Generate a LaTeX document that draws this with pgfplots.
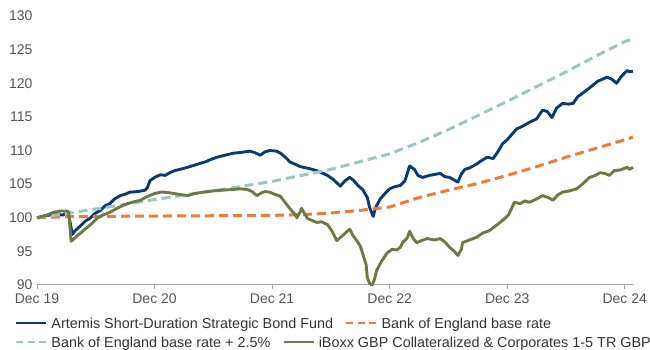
\documentclass[border=0pt]{standalone}
\usepackage{fontspec}
\setmainfont{Liberation Sans}
\usepackage{pgfplots}
\usepackage{pgfplotstable}
\pgfplotsset{compat=1.18}

\definecolor{navy}{HTML}{0B3B6E}
\definecolor{boe}{HTML}{F07C35}
\definecolor{boeplus}{HTML}{9CC5C7}
\definecolor{olive}{HTML}{6C7B46}
\definecolor{ticktxt}{HTML}{555555}
\definecolor{legtxt}{HTML}{333333}
\definecolor{axgrey}{HTML}{A6A6A6}

\pgfplotstableread{
x y
0.00 100.0
0.07 100.3
0.15 100.5
0.22 100.4
0.26 100.8
0.28 99.5
0.30 97.5
0.32 98.0
0.37 98.8
0.41 99.5
0.45 99.9
0.49 100.6
0.54 101.1
0.58 101.8
0.62 102.1
0.66 102.8
0.71 103.3
0.75 103.5
0.79 103.8
0.86 103.9
0.92 104.1
0.94 104.5
0.96 105.5
1.00 106.0
1.05 106.4
1.09 106.3
1.13 106.7
1.17 107.0
1.24 107.3
1.30 107.6
1.39 108.1
1.43 108.3
1.47 108.6
1.53 109.0
1.60 109.3
1.67 109.6
1.73 109.7
1.81 109.9
1.85 109.7
1.90 109.3
1.94 109.8
1.98 110.0
2.04 109.9
2.08 109.5
2.13 108.7
2.15 108.3
2.19 108.0
2.24 107.6
2.32 107.3
2.38 107.0
2.42 106.7
2.47 106.3
2.52 105.7
2.58 104.7
2.62 105.5
2.66 106.0
2.69 105.6
2.73 104.8
2.77 104.2
2.81 103.0
2.83 101.5
2.86 100.2
2.88 101.5
2.92 102.8
2.96 103.6
3.00 104.3
3.04 104.6
3.09 104.8
3.13 105.5
3.17 107.7
3.21 107.2
3.24 106.3
3.28 106.0
3.34 106.3
3.43 106.6
3.47 106.1
3.51 106.0
3.55 105.6
3.58 105.3
3.61 106.5
3.64 107.2
3.68 107.4
3.74 108.0
3.79 108.6
3.83 109.0
3.88 108.8
3.92 109.8
3.96 111.0
4.00 111.6
4.02 112.0
4.08 113.2
4.13 113.6
4.19 114.2
4.25 114.7
4.30 116.0
4.34 115.8
4.38 114.9
4.42 116.3
4.47 117.0
4.52 116.9
4.56 117.0
4.60 118.0
4.64 118.5
4.70 119.3
4.77 120.3
4.81 120.6
4.85 120.9
4.89 120.6
4.93 120.0
4.97 121.0
5.02 121.9
5.04 121.7
5.07 121.8
}\artemis

\pgfplotstableread{
x y
0.00 100.0
0.25 100.15
0.50 100.2
1.00 100.25
1.50 100.3
2.00 100.35
2.25 100.45
2.50 100.7
2.75 101.1
3.00 101.6
3.25 103.0
3.50 104.1
3.75 105.1
4.00 106.3
4.25 107.6
4.50 109.0
4.75 110.3
5.00 111.6
5.07 112.0
}\boe

\pgfplotstableread{
x y
0.00 100.0
0.50 101.3
1.00 102.7
1.50 104.0
2.00 105.4
2.50 107.2
3.00 109.5
3.25 111.2
3.50 113.1
3.75 115.2
4.00 117.3
4.25 119.5
4.50 121.7
4.75 124.0
5.00 126.2
5.07 126.6
}\boeplus

\pgfplotstableread{
x y
0.00 100.0
0.07 100.3
0.14 100.8
0.20 101.0
0.26 101.0
0.27 100.8
0.29 96.5
0.31 96.8
0.34 97.3
0.37 97.7
0.40 98.2
0.43 98.6
0.47 99.2
0.51 99.9
0.56 100.4
0.62 100.8
0.69 101.5
0.77 102.1
0.83 102.4
0.88 102.6
0.92 103.0
0.96 103.3
1.00 103.6
1.05 103.8
1.09 103.8
1.13 103.7
1.20 103.5
1.28 103.3
1.34 103.6
1.41 103.8
1.50 104.0
1.58 104.1
1.66 104.2
1.73 104.3
1.79 104.2
1.83 103.9
1.87 103.3
1.91 103.7
1.94 103.9
1.98 103.8
2.02 103.5
2.07 103.2
2.11 102.3
2.15 101.4
2.19 100.6
2.21 100.0
2.24 100.9
2.25 101.4
2.28 100.5
2.30 99.9
2.34 99.6
2.38 99.3
2.42 99.4
2.47 99.0
2.51 98.0
2.55 96.6
2.59 97.2
2.64 98.0
2.66 98.3
2.69 97.3
2.72 96.6
2.75 95.8
2.77 94.7
2.80 93.0
2.81 91.1
2.83 90.2
2.85 90.0
2.87 90.8
2.89 92.2
2.93 93.5
2.98 94.8
3.02 95.3
3.06 95.2
3.09 95.6
3.11 96.3
3.15 97.0
3.17 98.0
3.20 96.9
3.23 96.3
3.27 96.6
3.32 96.9
3.38 96.7
3.43 96.9
3.47 96.4
3.51 95.6
3.55 95.0
3.58 94.4
3.61 95.3
3.62 96.3
3.68 96.7
3.74 97.1
3.79 97.7
3.85 98.1
3.91 98.9
3.96 99.6
4.01 100.4
4.04 101.5
4.06 102.3
4.11 102.1
4.15 102.5
4.19 102.3
4.25 102.8
4.30 103.3
4.35 103.0
4.39 102.6
4.43 103.4
4.47 103.8
4.53 104.0
4.59 104.3
4.64 105.0
4.70 106.0
4.75 106.3
4.79 106.7
4.83 106.6
4.87 106.3
4.91 107.0
4.96 107.1
5.02 107.5
5.04 107.2
5.07 107.5
}\iboxx

\pgfplotsset{
  legfont/.style={font=\fontsize{14.4bp}{17bp}\selectfont, text=legtxt},
  legaxis/.style={
    hide axis, scale only axis, width=596bp, height=269bp,
    at={(37bp,65bp)}, anchor=south west,
    xmin=0, xmax=1, ymin=0, ymax=1,
    legend columns=-1,
    legend cell align=left,
    legend image code/.code={\draw[##1] (0bp,0bp) -- (30bp,0bp);},
    legend style={draw=none, fill=none, inner sep=0pt, outer sep=0pt,
      anchor=west, legfont,
      nodes={inner sep=0pt, text depth=0pt},
      /tikz/every even column/.append style={column sep=12bp},
      /tikz/every odd column/.append style={column sep=4bp}},
  },
}

\begin{document}
\begin{tikzpicture}
\useasboundingbox (0,0) rectangle (650bp,350bp);
\begin{axis}[
  scale only axis, width=596bp, height=269bp,
  at={(37bp,65bp)}, anchor=south west,
  xmin=0, xmax=5.07, ymin=90, ymax=130,
  axis x line*=bottom, axis y line*=left,
  x axis line style={draw=axgrey, line width=1bp},
  y axis line style={draw=none},
  xtick={0,1,2,3,4,5},
  xticklabels={Dec 19,Dec 20,Dec 21,Dec 22,Dec 23,Dec 24},
  ytick={90,95,...,130},
  xtick style={draw=axgrey, line width=0.8bp},
  xtick align=outside,
  major tick length=4bp,
  ytick style={draw=none},
  ytick align=inside,
  /pgf/number format/assume math mode=true,
  tick label style={font=\fontsize{14bp}{16bp}\selectfont, text=ticktxt},
  xticklabel style={yshift=-1bp},
  yticklabel style={xshift=-1bp},
  clip=false,
]
\addplot[navy, line width=2.9bp, line join=round] table {\artemis};
\addplot[boe, line width=3bp, dash pattern=on 9bp off 5bp] table {\boe};
\addplot[boeplus, line width=3bp, dash pattern=on 9bp off 5bp] table {\boeplus};
\addplot[olive, line width=2.9bp, line join=round] table {\iboxx};
\end{axis}
\begin{axis}[legaxis, legend style={at={(-0.0369,-0.1413)}}]
\addlegendimage{navy, line width=2.4bp}
\addlegendentry{Artemis Short-Duration Strategic Bond Fund}
\addlegendimage{boe, line width=2.4bp, dash pattern=on 7bp off 4.5bp}
\addlegendentry{Bank of England base rate}
\end{axis}
\begin{axis}[legaxis, legend style={at={(-0.0369,-0.2119)}}]
\addlegendimage{boeplus, line width=2.4bp, dash pattern=on 7bp off 4.5bp}
\addlegendentry{Bank of England base rate + 2.5\%}
\addlegendimage{olive, line width=2.4bp}
\addlegendentry{iBoxx GBP Collateralized \& Corporates 1-5 TR GBP}
\end{axis}
\end{tikzpicture}
\end{document}
